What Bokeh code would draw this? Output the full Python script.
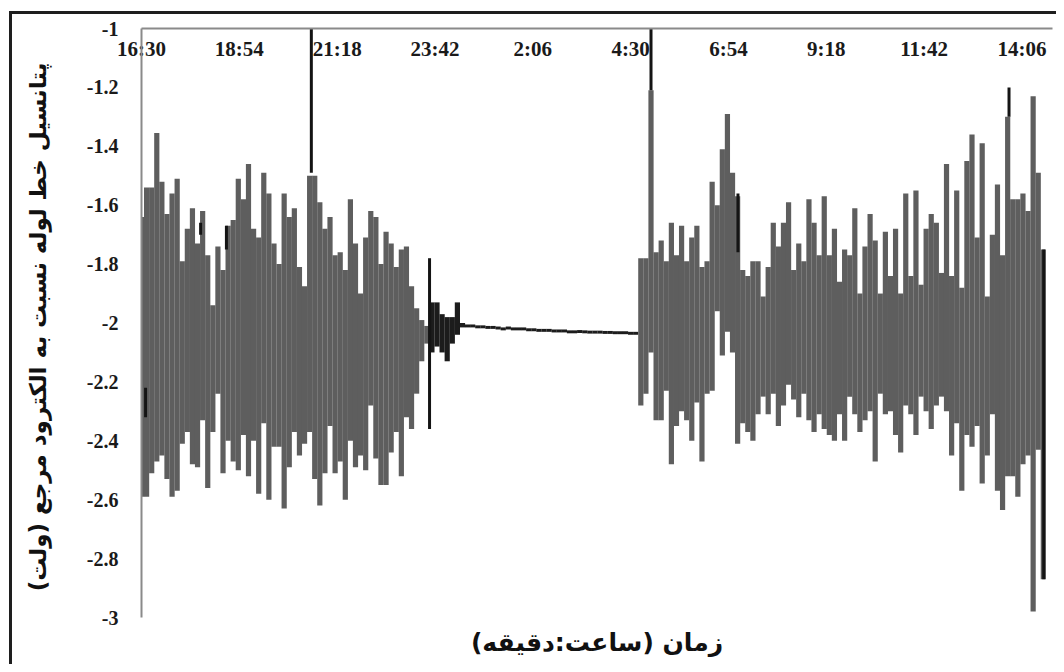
from bokeh.plotting import figure
from bokeh.models import FixedTicker, Range1d, Title
from bokeh.embed import file_html
from bokeh.resources import INLINE

# ---------------- data ----------------
# logger sampling interval (minutes after 16:30)
SAMPLE_STEP_MIN = 7.5

# upper / lower envelope of the pipe potential (V) in each sampling interval
# 16:30 - 23:30 (active)
upper_a = [
    -1.64, -1.54, -1.54, -1.355, -1.52, -1.63, -1.56, -1.51, -1.79, -1.68,
    -1.61, -1.73, -1.62, -1.77, -1.94, -1.74, -1.82, -1.67, -1.65, -1.51,
    -1.58, -1.46, -1.68, -1.71, -1.49, -1.56, -1.73, -1.80, -1.56, -1.64,
    -1.61, -1.81, -1.875, -1.50, -1.50, -1.59, -1.68, -1.64, -1.77, -1.76,
    -1.82, -1.58, -1.73, -1.90, -1.71, -1.62, -1.64, -1.80, -1.69, -1.73,
    -1.81, -1.75, -1.74, -1.875, -1.95, -1.99, -2.01,
]
lower_a = [
    -2.59, -2.59, -2.51, -2.47, -2.45, -2.53, -2.59, -2.57, -2.41, -2.37,
    -2.48, -2.49, -2.33, -2.56, -2.37, -2.24, -2.51, -2.40, -2.47, -2.50,
    -2.38, -2.52, -2.40, -2.58, -2.34, -2.60, -2.42, -2.42, -2.63, -2.49,
    -2.37, -2.45, -2.41, -2.37, -2.53, -2.62, -2.51, -2.35, -2.51, -2.47,
    -2.60, -2.40, -2.49, -2.45, -2.50, -2.28, -2.46, -2.55, -2.55, -2.44,
    -2.37, -2.52, -2.32, -2.36, -2.24, -2.13, -2.07,
]
# quiet period (about 23:40 - 4:40)
upper_q = [
    -1.93, -1.93, -1.97, -1.98, -1.98, -1.93, -2.00, -2.005, -2.005, -2.008,
    -2.008, -2.01, -2.01, -2.012, -2.015, -2.012, -2.015, -2.015, -2.015, -2.018,
    -2.018, -2.02, -2.02, -2.02, -2.022, -2.022, -2.022, -2.025, -2.025, -2.024,
    -2.025, -2.026, -2.026, -2.026, -2.027, -2.027, -2.028, -2.028, -2.028, -2.03,
    -2.03,
]
lower_q = [
    -2.10, -2.08, -2.10, -2.13, -2.07, -2.04, -2.015, -2.015, -2.015, -2.018,
    -2.018, -2.02, -2.02, -2.022, -2.025, -2.022, -2.025, -2.025, -2.025, -2.028,
    -2.028, -2.03, -2.03, -2.03, -2.032, -2.032, -2.032, -2.035, -2.035, -2.034,
    -2.035, -2.036, -2.036, -2.036, -2.037, -2.037, -2.038, -2.038, -2.038, -2.04,
    -2.04,
]
# 4:40 - 14:50 (active)
upper_b = [
    -1.78, -1.78, -1.21, -1.76, -1.72, -1.79, -1.66, -1.77, -1.67, -1.79,
    -1.71, -1.67, -1.81, -1.79, -1.52, -1.60, -1.41, -1.29, -1.49, -1.57,
    -1.82, -1.84, -1.79, -1.79, -1.91, -1.81, -1.66, -1.74, -1.66, -1.59,
    -1.82, -1.73, -1.79, -1.58, -1.66, -1.77, -1.57, -1.77, -1.68, -1.86,
    -1.75, -1.77, -1.61, -1.90, -1.74, -1.63, -1.72, -1.90, -1.69, -1.84,
    -1.68, -1.90, -1.56, -1.84, -1.55, -1.87, -1.68, -1.63, -1.66, -1.83,
    -1.46, -1.84, -1.55, -1.88, -1.45, -1.36, -1.71, -1.39, -1.91, -1.70,
    -1.53, -1.77, -1.30, -1.58, -1.58, -1.56, -1.62, -1.23, -1.49, -1.75,
]
lower_b = [
    -2.28, -2.24, -2.10, -2.33, -2.33, -2.23, -2.48, -2.35, -2.30, -2.33,
    -2.40, -2.27, -2.47, -2.24, -2.23, -1.96, -2.11, -2.03, -2.10, -2.41,
    -2.34, -2.37, -2.40, -2.31, -2.25, -2.31, -2.24, -2.35, -2.28, -2.21,
    -2.26, -2.32, -2.24, -2.33, -2.37, -2.31, -2.36, -2.38, -2.40, -2.31,
    -2.40, -2.25, -2.31, -2.37, -2.33, -2.30, -2.47, -2.24, -2.31, -2.30,
    -2.38, -2.44, -2.28, -2.31, -2.38, -2.25, -2.30, -2.36, -2.28, -2.25,
    -2.30, -2.45, -2.34, -2.57, -2.38, -2.42, -2.35, -2.545, -2.45, -2.31,
    -2.57, -2.635, -2.52, -2.52, -2.59, -2.48, -2.45, -2.98, -2.43, -2.87,
]

# darker overlaid strokes (minutes after 16:30, V)
dark_t = [6, 87, 125, 250, 424, 750, 878, 1277, 1328]
dark_hi = [-2.22, -1.66, -1.67, -1.00, -1.78, -1.00, -1.56, -1.20, -1.75]
dark_lo = [-2.32, -1.70, -1.75, -1.49, -2.36, -1.21, -1.76, -1.30, -2.87]

x_tick_labels = ["16:30", "18:54", "21:18", "23:42", "2:06", "4:30",
                 "6:54", "9:18", "11:42", "14:06"]
x_tick_step_min = 144
y_ticks = [-1.0, -1.2, -1.4, -1.6, -1.8, -2.0, -2.2, -2.4, -2.6, -2.8, -3.0]
y_tick_labels = ["-1", "-1.2", "-1.4", "-1.6", "-1.8", "-2", "-2.2", "-2.4",
                 "-2.6", "-2.8", "-3"]

y_label = "پتانسیل خط لوله نسبت به الکترود مرجع  (ولت)"
x_label = "زمان (ساعت:دقیقه)"

# sample times
n_a, n_q, n_b = len(upper_a), len(upper_q), len(upper_b)
t_a = [i * SAMPLE_STEP_MIN for i in range(n_a)]
t_q = [(n_a + i) * SAMPLE_STEP_MIN for i in range(n_q)]
t_b = [(n_a + n_q + i) * SAMPLE_STEP_MIN for i in range(n_b)]

# ---------------- figure ----------------
W, H = 1056, 664
p = figure(width=W, height=H, output_backend="svg", toolbar_location=None,
           x_range=Range1d(0, 1341), y_range=Range1d(-3, -1),
           x_axis_location="above",
           min_border_left=141, min_border_right=4,
           min_border_top=28, min_border_bottom=H - 28 - 592)
p.title.visible = False
p.outline_line_color = None
p.grid.visible = False
p.background_fill_color = "white"
p.border_fill_color = None
# outer chart border (left and top edges), painted behind the transparent canvas
LINE = "linear-gradient(#1e1e1e, #1e1e1e)"
p.styles = {
    "background": f"{LINE} 9px 11px / 3px 100% no-repeat, "
                  f"{LINE} 9px 11px / 100% 3px no-repeat, #ffffff",
}

GREY = "#5e5e5e"
BAR_W = 5.2
p.segment(x0=t_a, y0=lower_a, x1=t_a, y1=upper_a,
          line_color=GREY, line_width=BAR_W, line_cap="butt")
p.segment(x0=t_q, y0=lower_q, x1=t_q, y1=upper_q,
          line_color="#1c1c1c", line_width=BAR_W, line_cap="butt")
p.segment(x0=t_b, y0=lower_b, x1=t_b, y1=upper_b,
          line_color=GREY, line_width=BAR_W, line_cap="butt")
p.segment(x0=dark_t, y0=dark_lo, x1=dark_t, y1=dark_hi,
          line_color="#141414", line_width=3, line_cap="butt")

serif = "Liberation Serif"

xticks = [i * x_tick_step_min for i in range(len(x_tick_labels))]
xa = p.xaxis[0]
xa.ticker = FixedTicker(ticks=xticks)
xa.major_label_overrides = {t: lab for t, lab in zip(xticks, x_tick_labels)}
xa.major_tick_line_color = None
xa.minor_tick_line_color = None
xa.axis_line_color = "#8a8a8a"
xa.axis_line_width = 2
xa.major_label_standoff = -38
xa.major_label_text_font = serif
xa.major_label_text_font_style = "bold"
xa.major_label_text_font_size = "21px"
xa.major_label_text_color = "#1a1a1a"

ya = p.yaxis[0]
ya.ticker = FixedTicker(ticks=y_ticks)
ya.major_label_overrides = {t: lab for t, lab in zip(y_ticks, y_tick_labels)}
ya.major_tick_line_color = None
ya.minor_tick_line_color = None
ya.axis_line_color = "#8a8a8a"
ya.axis_line_width = 2
ya.major_label_standoff = 17
ya.major_label_text_font = serif
ya.major_label_text_font_style = "bold"
ya.major_label_text_font_size = "20px"
ya.major_label_text_color = "#1a1a1a"
ya.axis_label = y_label
ya.axis_label_text_font = "DejaVu Sans"
ya.axis_label_text_font_style = "bold"
ya.axis_label_text_font_size = "23px"
ya.axis_label_text_color = "#111111"
ya.axis_label_standoff = 33

p.add_layout(Title(text=x_label, align="center", text_font="DejaVu Sans",
                   text_font_style="bold", text_font_size="25px",
                   text_color="#111111", standoff=16), "below")

open("out.html", "w").write(file_html(p, INLINE))
